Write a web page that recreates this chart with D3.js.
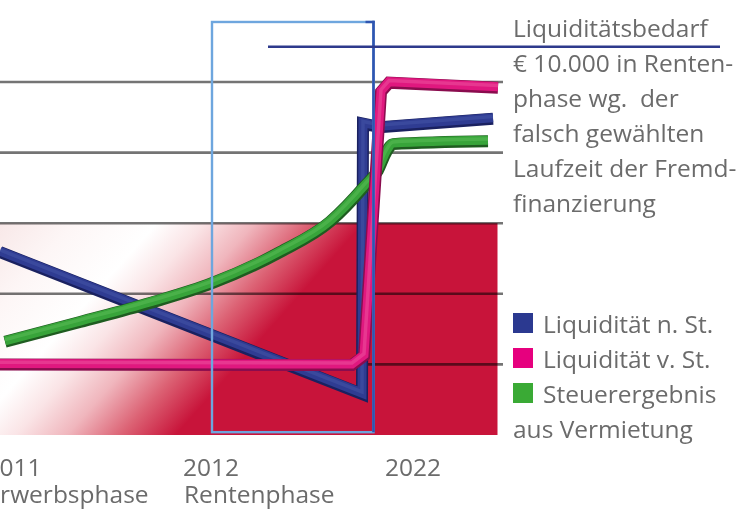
<!DOCTYPE html>
<html><head><meta charset="utf-8">
<script src="https://cdn.jsdelivr.net/npm/d3@7"></script>
<style>
html,body{margin:0;padding:0;background:#fff;overflow:hidden}
svg{display:block}
text{font-family:"Open Sans","Noto Sans",sans-serif;fill:#6b6b6b;white-space:pre}
</style></head>
<body>
<svg id="c" width="742" height="514"></svg>
<script>
// ---- data ----
const yearLabels = ["2011", "2012", "2022"];
const phaseLabels = ["Erwerbsphase", "Rentenphase", ""];
const labelTimes = [-2.9, 36.6, 77];
const gridValues = [1, 2, 3, 4, 5];
const lossZone = [0, 3];            // red zone value range
const phaseWindow = [42.4, 74.7];   // Rentenphase window (time)
const phaseWindowValues = [0.04, 5.85];
const bedarfLevel = 5.5;
const bedarfSpan = [53.6, 144];
const seriesNames = ["Liquidität n. St.", "Liquidität v. St.", "Steuerergebnis", "aus Vermietung"];
const liqNachSteuer = [[0, 2.59], [72.4, 0.58], [72.6, 4.41], [76, 4.36], [98.6, 4.48]];
const liqVorSteuer  = [[0, 1.0], [70.4, 0.99], [72.8, 1.12], [76.2, 4.86], [77.8, 4.99], [99.6, 4.92]];
const steuerErgebnis = [[1, 1.32], [16, 1.6], [30, 1.87], [42.4, 2.15], [56, 2.59], [66, 3.02], [73, 3.53], [75.6, 3.75], [77.2, 4.0], [78.6, 4.12], [97.6, 4.16]];
const noteLines = ["Liquiditätsbedarf", "€ 10.000 in Renten-", "phase wg.  der", "falsch gewählten", "Laufzeit der Fremd-", "finanzierung"];

// ---- layout ----
const svg = d3.select("#c");
const x = d3.scaleLinear().domain([0, 100]).range([0, 500]);
const y = d3.scaleLinear().domain([0, 5]).range([435, 82]);

const defs = svg.append("defs");
const lgd = defs.append("linearGradient").attr("id", "redg")
  .attr("gradientUnits", "userSpaceOnUse")
  .attr("x1", 111).attr("y1", 99).attr("x2", 314).attr("y2", 279);
[[0, "#f8e8e8"], [0.2, "#fdf6f6"], [0.43, "#ffffff"], [0.56, "#fae4e6"], [0.7, "#f0b6bd"], [0.85, "#dc6274"], [1, "#c8143a"]]
  .forEach(([o, c]) => lgd.append("stop").attr("offset", o).attr("stop-color", c));

// loss zone
svg.append("rect")
  .attr("x", x(0)).attr("y", y(lossZone[1]))
  .attr("width", x(99.5) - x(0)).attr("height", y(lossZone[0]) - y(lossZone[1]))
  .attr("fill", "url(#redg)");

// gridlines
svg.append("g").selectAll("line").data(gridValues).join("line")
  .attr("x1", x(0)).attr("x2", x(100.6))
  .attr("y1", d => y(d)).attr("y2", d => y(d))
  .attr("stroke", "#747474").attr("stroke-width", 2.6)
  .style("mix-blend-mode", "multiply");

// tubes
function tube(data, col, curve) {
  const line = d3.line().x(d => x(d[0])).y(d => y(d[1])).curve(curve);
  const g = svg.append("g").attr("fill", "none").attr("stroke-linejoin", "miter").attr("stroke-miterlimit", 8);
  g.append("path").attr("d", line(data)).attr("stroke", col.dark).attr("stroke-width", 12);
  g.append("path").attr("d", line(data)).attr("stroke", col.main).attr("stroke-width", 9)
    .attr("transform", "translate(0,-1)");
  g.append("path").attr("d", line(data)).attr("stroke", col.light).attr("stroke-width", 3.5)
    .attr("stroke-opacity", 0.45).attr("transform", "translate(0,-2.2)");
}
tube(liqNachSteuer, {dark: "#1a2160", main: "#2f3c92", light: "#4a58aa"}, d3.curveLinear);
tube(steuerErgebnis, {dark: "#1f5c20", main: "#38a43a", light: "#62c25e"}, d3.curveMonotoneX);
tube(liqVorSteuer, {dark: "#8a0c4e", main: "#e0187f", light: "#f05ea6"}, d3.curveLinear);

// phase window
const px0 = x(phaseWindow[0]), px1 = x(phaseWindow[1]);
const py0 = y(phaseWindowValues[1]), py1 = y(phaseWindowValues[0]);
svg.append("rect").attr("x", px0).attr("y", py0).attr("width", px1 - px0).attr("height", py1 - py0)
  .attr("fill", "none").attr("stroke", "#6ea6de").attr("stroke-width", 2.4);
svg.append("line").attr("x1", px1).attr("x2", px1).attr("y1", py0 - 1.2).attr("y2", py1)
  .attr("stroke", "#2f55b0").attr("stroke-width", 2.6);
svg.append("line").attr("x1", px1 - 8).attr("x2", px1 + 1).attr("y1", py0).attr("y2", py0)
  .attr("stroke", "#2f55b0").attr("stroke-width", 2.4);

// Bedarf line
svg.append("line").attr("x1", x(bedarfSpan[0])).attr("x2", x(bedarfSpan[1]))
  .attr("y1", y(bedarfLevel)).attr("y2", y(bedarfLevel))
  .attr("stroke", "#2e3a8c").attr("stroke-width", 2.6);

// note text
svg.append("g").selectAll("text").data(noteLines).join("text")
  .attr("x", 513).attr("y", (d, i) => 37 + i * 34.9)
  .attr("font-size", 24.5)
  .text(d => d);

// legend
const legendColors = ["#2b3990", "#e6007e", "#3aaa35"];
const lg = svg.append("g");
lg.selectAll("rect").data(legendColors).join("rect")
  .attr("x", 513).attr("y", (d, i) => 313 + i * 35).attr("width", 20).attr("height", 20)
  .attr("fill", d => d);
lg.selectAll("text").data(seriesNames).join("text")
  .attr("x", (d, i) => i < 3 ? 543 : 513).attr("y", (d, i) => 333 + i * 35)
  .attr("font-size", 24.5)
  .text(d => d);

// x labels
const xl = svg.append("g");
xl.selectAll("text.yr").data(yearLabels).join("text").attr("class", "yr")
  .attr("x", (d, i) => x(labelTimes[i])).attr("y", 476)
  .attr("font-size", 24.5).text(d => d);
xl.selectAll("text.ph").data(phaseLabels).join("text").attr("class", "ph")
  .attr("x", (d, i) => x(labelTimes[i]) + 1).attr("y", 503)
  .attr("font-size", 24.5).text(d => d);
</script>
</body></html>
